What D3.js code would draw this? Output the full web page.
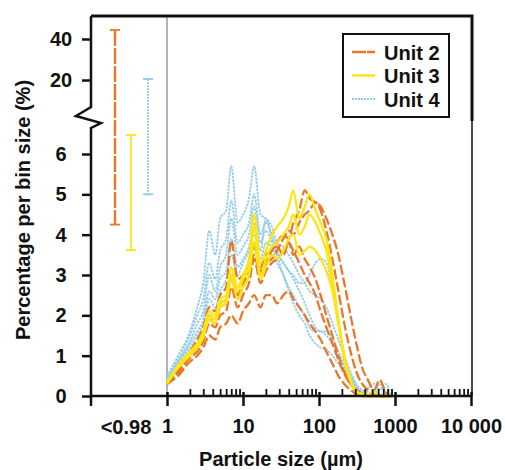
<!DOCTYPE html>
<html><head><meta charset="utf-8">
<script src="https://cdn.jsdelivr.net/npm/d3@7"></script>
<style>body{margin:0;background:#fff}svg{display:block}text{font-family:"Liberation Sans",Arial,sans-serif;font-weight:bold;fill:#111}</style>
</head><body><svg id="c" width="505" height="470"></svg>
<script>
// ---- data ----
const sizes = [1,1.4,2,2.5,3,3.6,4.3,5,6,7,8.5,10,12,14,17,20,24,28,34,40,46,55,65,75,90,105,125,150,180,215,260,310,370,440,530,630,750,900];
const unit4Series = [
 [0.5,1.0,1.6,2.2,2.8,4.1,3.5,4.4,4.6,5.7, 4.3,4.5,4.9,5.7,4.5, 4.4,4.2,3.8,3.7,3.5, 3.3,3.0,2.8,2.6,2.5, 2.4,2.2,1.8,1.4,1.0, 0.6,0.3,0.15,0.1,0.05, 0.3,0.1,0],
 [0.5,0.9,1.5,2.0,2.4,3.3,2.9,3.6,3.9,4.85, 3.8,4.0,4.3,5.0,4.0, 4.3,4.0,3.6,3.3,3.1, 2.9,2.6,2.3,2.0,1.7, 1.6,1.6,1.4,1.1,0.8, 0.5,0.25,0.1,0.05,0, 0,0,0],
 [0.45,0.85,1.35,1.8,2.1,3.0,2.6,3.2,3.5,4.4, 3.5,3.7,4.0,4.7,3.8, 4.1,3.8,3.5,3.3,3.1, 3.0,2.8,2.8,3.0,3.3, 3.4,3.3,2.7,1.8,1.0, 0.45,0.15,0.05,0,0, 0,0,0],
 [0.4,0.8,1.3,1.6,1.9,2.6,2.4,2.9,3.1,3.9, 3.2,3.4,3.7,4.3,3.6, 4.4,3.9,3.5,3.0,2.7, 2.5,2.2,2.0,1.7,1.6, 1.6,1.5,1.3,1.0,0.7, 0.45,0.2,0.1,0.2,0.3, 0.15,0.3,0],
 [0.4,0.75,1.2,1.5,1.8,2.4,2.2,2.6,2.9,3.5, 3.0,3.3,3.6,4.0,3.4, 3.8,3.7,3.3,3.0,2.6, 2.3,2.0,1.8,1.5,1.3, 1.2,1.15,1.0,0.8,0.6, 0.4,0.2,0.1,0.05,0.1, 0.05,0,0]
];
const unit2Series = [
 [0.3,0.6,1.0,1.2,1.5,1.9,1.8,2.2,2.3,2.9, 2.4,2.7,3.0,3.5,3.0, 3.3,3.6,3.8,4.0,3.9, 4.3,4.6,5.1,4.9,4.8, 4.7,4.4,4.0,3.5,2.8, 2.0,1.3,0.7,0.4,0.15, 0.4,0.1,0],
 [0.3,0.65,1.05,1.3,1.6,2.0,1.9,2.3,2.4,3.0, 2.5,2.8,3.1,3.7,3.1, 3.3,3.4,3.6,3.9,4.1, 4.0,4.3,4.5,4.6,4.8, 4.6,4.1,3.4,2.6,1.8, 1.1,0.6,0.3,0.15,0.05, 0,0,0],
 [0.35,0.7,1.1,1.4,1.7,2.2,2.1,2.5,2.7,3.85, 2.9,3.0,3.3,3.8,3.2, 3.5,3.6,3.7,3.5,3.8, 3.6,3.3,3.0,2.8,2.5, 2.1,1.7,1.3,0.9,0.55, 0.3,0.15,0.05,0,0, 0,0,0],
 [0.3,0.55,0.95,1.1,1.35,1.8,1.7,2.0,2.1,2.7, 2.2,2.5,2.8,3.4,2.8, 3.1,3.3,3.4,3.6,3.8, 3.5,3.7,3.4,3.2,2.9, 2.5,2.0,1.5,1.0,0.6, 0.3,0.15,0.05,0,0, 0,0,0],
 [0.3,0.5,0.85,1.0,1.2,1.5,1.4,1.7,1.8,2.0, 1.8,2.1,2.3,2.5,2.2, 2.5,2.5,2.3,2.5,2.6, 2.4,2.2,2.0,1.8,1.6, 1.4,1.1,0.8,0.5,0.3, 0.15,0.05,0,0,0, 0,0,0]
];
const unit3Series = [
 [0.35,0.75,1.1,1.3,1.6,2.1,2.0,2.4,2.5,3.2, 2.7,3.0,3.4,4.5,3.3, 3.6,4.0,4.2,4.4,4.7, 5.1,4.4,4.7,5.0,4.6, 4.3,3.9,3.0,1.9,1.0, 0.4,0.1,0.05,0,0, 0,0,0],
 [0.35,0.7,1.05,1.25,1.55,2.0,1.9,2.3,2.4,3.0, 2.6,2.9,3.2,4.2,3.0, 3.4,3.7,3.8,4.0,4.2, 4.5,4.0,4.2,4.5,4.3, 4.0,3.6,2.8,1.8,0.9, 0.35,0.1,0.05,0,0, 0,0,0],
 [0.3,0.7,1.0,1.2,1.45,1.9,1.8,2.2,2.3,2.9, 2.4,2.7,3.0,3.8,2.9, 3.2,3.5,3.4,3.6,3.9, 4.0,3.5,3.6,3.7,3.6, 3.4,3.1,2.6,1.8,1.0, 0.4,0.12,0.05,0.05,0.1, 0,0,0]
];
const unitNames = ["Unit 2","Unit 3","Unit 4"];
const fineLow = [4.25, 3.62, 5.0];     // <0.98 µm fraction, min
const fineHigh = [44.4, 6.47, 20.5];   // <0.98 µm fraction, max
const yTicksLower = [0,1,2,3,4,5,6];
const yTicksUpper = [20,40];
const xTickValues = [1,10,100,1000,10000];
const xTickLabels = ["1","10","100","1000","10 000"];
const fineLabel = "<0.98";

// ---- styles ----
const colors = ["#e9772a","#fbe614","#93cbe8"];
const dashes = ["10,3",null,"2.5,1"];
const widths = [2.3,2.3,1.8];

const svg = d3.select("#c");
const L = 91, R = 472, T = 16, B = 396, BRK = 121;
const x = d3.scaleLog().domain([1,10000]).range([167,471]);
const yLow = d3.scaleLinear().domain([0,6]).range([B,154]);
const yUp = d3.scaleLinear().domain([20,40]).range([80,39]);
const yAny = v => v >= 10 ? yUp(v) : yLow(v);

// gray line at 1 µm
svg.append("line").attr("x1",x(1)).attr("x2",x(1)).attr("y1",T).attr("y2",B)
  .attr("stroke","#9a9a9a").attr("stroke-width",1.5);

// data lines
const line = d3.line().x((d,i)=>x(sizes[i])).y(d=>yLow(d)).curve(d3.curveMonotoneX);
const groups = [[unit4Series,2],[unit2Series,0],[unit3Series,1]];
groups.forEach(([ser,k])=>{
  svg.append("g").selectAll("path").data(ser).join("path")
    .attr("d",line).attr("fill","none").attr("stroke",colors[k])
    .attr("stroke-width",widths[k]).attr("stroke-dasharray",dashes[k])
    .attr("stroke-linejoin","round");
});

// range bars for <0.98 fraction
const barX = [115,131,148];
unitNames.forEach((n,k)=>{
  const g = svg.append("g");
  g.append("line").attr("x1",barX[k]).attr("x2",barX[k]).attr("y1",yAny(fineHigh[k])).attr("y2",yAny(fineLow[k]))
    .attr("stroke",colors[k]).attr("stroke-width",k===0?2.4:1.8).attr("stroke-dasharray",k===0?"16,2":(k===2?"2,1":null));
  [fineHigh[k],fineLow[k]].forEach(v=>{
    g.append("line").attr("x1",barX[k]-5).attr("x2",barX[k]+5).attr("y1",yAny(v)).attr("y2",yAny(v))
      .attr("stroke",colors[k]).attr("stroke-width",1.8);
  });
});

// frame
svg.append("path").attr("d",`M${L},${T}H${R}V${BRK}`).attr("fill","none").attr("stroke","#111").attr("stroke-width",3);
svg.append("line").attr("x1",R).attr("x2",R).attr("y1",BRK).attr("y2",B).attr("stroke","#111").attr("stroke-width",1.5);
svg.append("path").attr("d",`M${L},${T}V107L76,116L101,123L${L},128V${B}`).attr("fill","none")
  .attr("stroke","#111").attr("stroke-width",2.5).attr("stroke-linejoin","miter");

// y axes
const fs = "20px";
const yAxL = svg.append("g").attr("transform",`translate(${L},0)`)
  .call(d3.axisLeft(yLow).tickValues(yTicksLower).tickFormat(d3.format("d")).tickSize(9).tickPadding(0));
const yAxU = svg.append("g").attr("transform",`translate(${L},0)`)
  .call(d3.axisLeft(yUp).tickValues(yTicksUpper).tickFormat(d3.format("d")).tickSize(9).tickPadding(0));
[yAxL,yAxU].forEach(a=>{
  a.select(".domain").remove();
  a.selectAll(".tick line").attr("stroke","#111").attr("stroke-width",2.5);
  a.selectAll(".tick text").attr("x",-30).attr("text-anchor","middle").attr("font-size",fs).attr("fill","#111")
    .attr("font-family",null);
});

// x axis
svg.append("line").attr("x1",L).attr("x2",R).attr("y1",B).attr("y2",B).attr("stroke","#111").attr("stroke-width",2.5);
const minor = [];
for (let d=1; d<10000; d*=10) for (let m=2;m<=9;m++) minor.push(d*m);
const xMin = svg.append("g").attr("transform",`translate(0,${B})`)
  .call(d3.axisBottom(x).tickValues(minor).tickSizeInner(-7).tickSizeOuter(0).tickFormat(""));
xMin.select(".domain").remove();
xMin.selectAll(".tick line").attr("stroke","#111").attr("stroke-width",1.8);
const xMaj = svg.append("g").attr("transform",`translate(0,${B})`)
  .call(d3.axisBottom(x).tickValues(xTickValues).tickSize(10).tickPadding(13)
    .tickFormat((d,i)=>xTickLabels[i]));
xMaj.select(".domain").remove();
xMaj.selectAll(".tick line").attr("y1",-4).attr("stroke","#111").attr("stroke-width",2.5);
xMaj.selectAll(".tick text").attr("font-size",fs).attr("font-family",null).attr("fill","#111");
svg.append("line").attr("x1",L).attr("x2",L).attr("y1",B).attr("y2",B+10).attr("stroke","#111").attr("stroke-width",2.5);
svg.append("text").attr("x",(L+x(1))/2-3).attr("y",434).attr("text-anchor","middle").attr("font-size",fs).text(fineLabel);

// titles
svg.append("text").attr("x",281).attr("y",466).attr("text-anchor","middle").attr("font-size",fs).text("Particle size (µm)");
svg.append("text").attr("transform","translate(30,210) rotate(-90)").attr("text-anchor","middle").attr("font-size",fs)
  .text("Percentage per bin size (%)");

// legend
const lg = svg.append("g");
lg.append("rect").attr("x",343).attr("y",34).attr("width",106).attr("height",83).attr("fill","#fff")
  .attr("stroke","#111").attr("stroke-width",2);
unitNames.forEach((n,k)=>{
  const yy = 52 + k*23.5;
  lg.append("line").attr("x1",352).attr("x2",375).attr("y1",yy).attr("y2",yy)
    .attr("stroke",colors[k]).attr("stroke-width",k===2?2:2.5).attr("stroke-dasharray",k===0?"14,1":(k===2?"2,1":null));
  lg.append("text").attr("x",384).attr("y",yy+7.5).attr("font-size",fs).text(n);
});
</script></body></html>
